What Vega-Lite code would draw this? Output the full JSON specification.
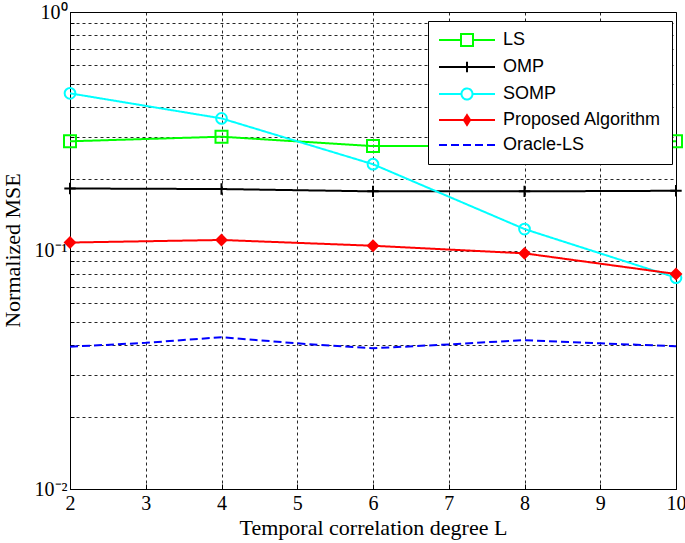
{
  "$schema": "https://vega.github.io/schema/vega-lite/v6.json",
  "width": 606,
  "height": 477,
  "autosize": "none",
  "padding": {"left": 70, "top": 12, "right": 9, "bottom": 54},
  "background": "white",
  "config": {
    "view": {"stroke": "black", "strokeWidth": 1},
    "axis": {
      "domainColor": "black",
      "domainWidth": 1,
      "tickColor": "black",
      "labelColor": "black",
      "titleColor": "black",
      "labelFont": "Liberation Serif",
      "titleFont": "Liberation Serif",
      "labelFontSize": 20,
      "titleFontSize": 22,
      "titleFontWeight": "normal",
      "grid": true,
      "gridColor": "black",
      "gridOpacity": 0.85,
      "gridDash": [3, 3],
      "gridWidth": 1
    }
  },
  "data": {
    "values": [
      {"series": "LS", "x": 2, "y": 0.287},
      {"series": "LS", "x": 4, "y": 0.300},
      {"series": "LS", "x": 6, "y": 0.274},
      {"series": "LS", "x": 8, "y": 0.275},
      {"series": "LS", "x": 10, "y": 0.287},
      {"series": "OMP", "x": 2, "y": 0.182},
      {"series": "OMP", "x": 4, "y": 0.181},
      {"series": "OMP", "x": 6, "y": 0.177},
      {"series": "OMP", "x": 8, "y": 0.177},
      {"series": "OMP", "x": 10, "y": 0.178},
      {"series": "SOMP", "x": 2, "y": 0.456},
      {"series": "SOMP", "x": 4, "y": 0.358},
      {"series": "SOMP", "x": 6, "y": 0.230},
      {"series": "SOMP", "x": 8, "y": 0.123},
      {"series": "SOMP", "x": 10, "y": 0.0769},
      {"series": "Proposed Algorithm", "x": 2, "y": 0.108},
      {"series": "Proposed Algorithm", "x": 4, "y": 0.1107},
      {"series": "Proposed Algorithm", "x": 6, "y": 0.1047},
      {"series": "Proposed Algorithm", "x": 8, "y": 0.0973},
      {"series": "Proposed Algorithm", "x": 10, "y": 0.0797},
      {"series": "Oracle-LS", "x": 2, "y": 0.0395},
      {"series": "Oracle-LS", "x": 3, "y": 0.0410},
      {"series": "Oracle-LS", "x": 4, "y": 0.0433},
      {"series": "Oracle-LS", "x": 5, "y": 0.0408},
      {"series": "Oracle-LS", "x": 6, "y": 0.0389},
      {"series": "Oracle-LS", "x": 7, "y": 0.0404},
      {"series": "Oracle-LS", "x": 8, "y": 0.0421},
      {"series": "Oracle-LS", "x": 9, "y": 0.0408},
      {"series": "Oracle-LS", "x": 10, "y": 0.0397}
    ]
  },
  "encoding": {
    "x": {
      "field": "x",
      "type": "quantitative",
      "scale": {"domain": [2, 10], "nice": false, "zero": false},
      "axis": {
        "title": "Temporal correlation degree L",
        "values": [2, 3, 4, 5, 6, 7, 8, 9, 10],
        "format": "d",
        "tickSize": -5,
        "labelPadding": 9,
        "labelFlush": false,
        "titleX": 303,
        "titleY": 38,
        "titleBaseline": "middle",
        "titleAlign": "center"
      }
    },
    "y": {
      "field": "y",
      "type": "quantitative",
      "scale": {"type": "log", "domain": [0.01, 1], "nice": false},
      "axis": {
        "title": "Normalized MSE",
        "values": [0.01, 0.02, 0.03, 0.04, 0.05, 0.06, 0.07, 0.08, 0.09, 0.1, 0.2, 0.3, 0.4, 0.5, 0.6, 0.7, 0.8, 0.9, 1],
        "labelExpr": "datum.value == 1 ? '10⁰' : datum.value == 0.1 ? '10⁻¹' : datum.value == 0.01 ? '10⁻²' : ''",
        "tickSize": -4,
        "labelPadding": 7,
        "labelFlush": false,
        "titleX": -58,
        "titleY": 238,
        "titleAngle": -90,
        "titleBaseline": "middle",
        "titleAlign": "center"
      }
    }
  },
  "layer": [
    {
      "mark": {"type": "line", "strokeWidth": 2, "clip": true},
      "encoding": {
        "color": {
          "field": "series",
          "type": "nominal",
          "scale": {
            "domain": ["LS", "OMP", "SOMP", "Proposed Algorithm", "Oracle-LS"],
            "range": ["#00ff00", "#000000", "#00ffff", "#ff0000", "#0000ff"]
          },
          "legend": {
            "orient": "none",
            "legendX": 358,
            "legendY": 9,
            "title": null,
            "symbolSize": 196,
            "symbolStrokeWidth": 2,
            "labelFont": "Liberation Sans",
            "labelFontSize": 18,
            "labelColor": "black",
            "padding": 10,
            "rowPadding": 7,
            "strokeColor": "black",
            "fillColor": "white",
            "symbolOffset": 20,
            "labelOffset": 27,
            "encode": {
              "symbols": {
                "update": {
                  "shape": {"signal": "datum.value === 'LS' ? 'M-4,0H-0.857M0.857,0H4M-0.857,-0.857H0.857V0.857H-0.857Z' : datum.value === 'OMP' ? 'M-4,0H4M0,-0.75V0.75' : datum.value === 'SOMP' ? 'M-4,0H-0.786M0.786,0H4M0.786,0A0.786,0.786,0,1,1,-0.786,0A0.786,0.786,0,1,1,0.786,0' : datum.value === 'Proposed Algorithm' ? 'M-4,0H4M0,-0.7L0.45,0L0,0.7L-0.45,0Z' : 'M-4,0H4'"},
                  "fill": {"signal": "datum.value === 'Proposed Algorithm' ? '#ff0000' : 'transparent'"},
                  "strokeDash": {"signal": "datum.value === 'Oracle-LS' ? [7, 4] : [1, 0]"}
                }
              }
            }
          }
        },
        "strokeDash": {
          "field": "series",
          "type": "nominal",
          "scale": {
            "domain": ["LS", "OMP", "SOMP", "Proposed Algorithm", "Oracle-LS"],
            "range": [[1, 0], [1, 0], [1, 0], [1, 0], [8, 4]]
          },
          "legend": null
        }
      }
    },
    {
      "transform": [{"filter": "datum.series !== 'Oracle-LS'"}],
      "mark": {"type": "point", "strokeWidth": 2, "opacity": 1, "clip": false},
      "encoding": {
        "shape": {
          "field": "series",
          "type": "nominal",
          "scale": {
            "domain": ["LS", "OMP", "SOMP", "Proposed Algorithm"],
            "range": ["square", "M0,-1V1M-1,0H1", "circle", "diamond"]
          },
          "legend": null
        },
        "size": {
          "field": "series",
          "type": "nominal",
          "scale": {
            "domain": ["LS", "OMP", "SOMP", "Proposed Algorithm"],
            "range": [144, 100, 121, 64]
          },
          "legend": null
        },
        "stroke": {
          "field": "series",
          "type": "nominal",
          "scale": {
            "domain": ["LS", "OMP", "SOMP", "Proposed Algorithm"],
            "range": ["#00ff00", "#000000", "#00ffff", "#ff0000"]
          },
          "legend": null
        },
        "fill": {
          "field": "series",
          "type": "nominal",
          "scale": {
            "domain": ["LS", "OMP", "SOMP", "Proposed Algorithm"],
            "range": ["transparent", "transparent", "transparent", "#ff0000"]
          },
          "legend": null
        }
      }
    }
  ]
}
